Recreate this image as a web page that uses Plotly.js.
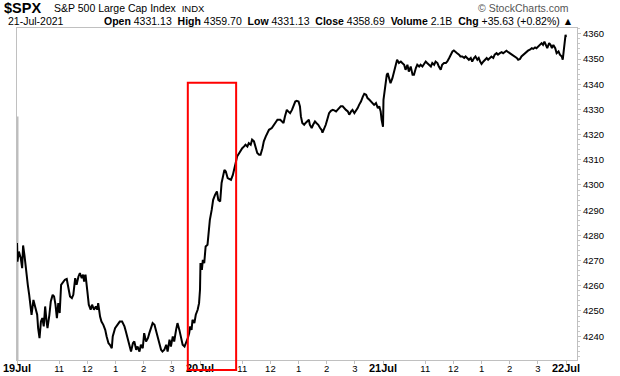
<!DOCTYPE html>
<html><head><meta charset="utf-8">
<script src="https://cdn.plot.ly/plotly-3.0.1.min.js"></script>
<style>html,body{margin:0;padding:0;background:#fff}#chart{width:620px;height:376px}</style>
</head><body><div id="chart"></div>
<script>
// ---- data (minutes since each session's 9:30 open, price) ----
const day19Min = [0,1,4,8,11,13,16,19,23,26,28,31,35,38,43,45,48,51,54,57,60,63,65,69,72,76,79,82,85,88,91,94,97,102,106,109,113,117,120,124,127,131,134,138,141,143,146,150,153,157,160,164,168,171,173,177,180,184,188,191,195,198,202,204,209,214,219,224,229,232,236,239,243,247,250,254,257,261,264,268,271,275,279,282,286,289,293,296,300,303,307,310,314,318,321,325,328,332,335,339,342,346,350,353,357,360,364,367,369,372,374,378,381,385,388,390];
const day19Px  = [4277,4269.6,4273.6,4271,4267,4276,4272,4265.7,4260.4,4256.4,4253.8,4248.5,4254.4,4251.8,4248.5,4243.2,4239.2,4245.8,4247.2,4243.9,4251.8,4245.8,4243.2,4248.5,4253.8,4256.4,4255.8,4252.5,4247.2,4253.1,4249.2,4260.4,4261.1,4262.4,4262.7,4259.1,4255.8,4255.1,4256.4,4263,4260.4,4263.7,4265,4263,4264.4,4261.7,4264.4,4257.7,4252.5,4250.5,4252.5,4250.5,4251.8,4250.5,4253.1,4247.8,4245.8,4244.5,4242.5,4239.9,4237.2,4236.6,4235.2,4239.9,4243.2,4244.5,4245.8,4245.8,4243.9,4241.9,4238.6,4235.9,4233.9,4237.2,4237.9,4234.6,4235.9,4233.9,4236.6,4235.2,4241.2,4237.9,4239.2,4241.2,4243.9,4245.2,4244.5,4242.5,4239.9,4237.2,4234.6,4233.9,4234.6,4236.6,4233.9,4238.6,4235.9,4239.9,4237.9,4242.5,4245.2,4242.5,4239.2,4236.6,4235.9,4237.2,4239.2,4241.2,4243.9,4242.5,4246.5,4245.2,4248.5,4250.5,4253.1,4258.5];
const day20Min = [1,4,6,9,12,16,19,21,25,28,32,36,39,43,46,50,52,55,59,62,66,70,73,76,79,83,87,90,94,97,101,104,108,111,115,119,122,126,129,133,136,140,143,147,153,160,165,171,174,178,181,185,188,192,196,199,203,206,210,213,215,218,222,225,229,232,234,238,241,245,248,252,256,259,261,265,268,272,275,279,283,286,290,293,297,300,304,307,311,315,318,322,325,329,332,336,339,343,347,350,354,357,361,364,368,371,375,379,382,385,387,390];
const day20Px  = [4269,4266.3,4270.3,4269,4275.6,4276.3,4282.2,4286.2,4290.2,4294.1,4296.1,4297.4,4294.1,4293.5,4300.8,4304,4306,4305.4,4302.7,4302.4,4302,4304,4306,4308.7,4311.3,4312.7,4314,4314.6,4315.3,4316,4315.3,4316.6,4316,4318,4317.3,4314,4312.7,4312,4312,4314.6,4317.3,4319.2,4320.6,4321.9,4322.6,4324.5,4325.9,4325.9,4325.2,4324.6,4327.2,4329.8,4329.2,4328.5,4329.8,4331.2,4333.1,4333.4,4333.1,4331.2,4327.2,4324.6,4323.9,4324.6,4325.2,4325.9,4323.9,4322.6,4323.9,4325.2,4324.6,4323.9,4322.6,4321.9,4320.8,4322.6,4323.9,4326.5,4328.5,4329.4,4329.8,4329.6,4329.2,4329.8,4330.5,4331.2,4331.2,4330.5,4329.8,4329.2,4327.9,4329.2,4329.8,4328.5,4329.2,4330.5,4331.8,4333.1,4335.1,4336.2,4335.8,4334.5,4333.8,4333.1,4332.5,4331.8,4332.5,4330.5,4331.2,4329.2,4325.9,4323.1];
const day21Min = [1,4,6,8,10,13,16,20,23,27,30,34,38,41,45,48,52,55,59,63,66,70,73,77,80,84,87,91,94,98,102,105,109,112,116,119,123,126,130,134,137,141,144,148,151,155,158,162,165,169,173,176,180,183,187,190,194,197,201,204,207,210,214,217,221,224,228,231,235,238,242,245,249,253,256,260,263,267,270,274,277,281,285,288,292,295,299,302,306,309,313,317,320,324,327,331,334,338,341,344,347,350,354,357,360,363,367,370,374,377,381,383,385,387,389,390];
const day21Px  = [4333.8,4338.5,4339.8,4343.7,4344.4,4341.7,4340.4,4342.4,4345,4347.7,4349.7,4348.4,4349,4348.4,4347.7,4345.7,4347.7,4345,4347,4343.7,4343.7,4346.4,4347.7,4347,4347.7,4347,4347.7,4349,4348.4,4347.7,4347,4348.4,4347.7,4349,4348.4,4347,4345.7,4347.7,4348.4,4348.4,4349,4350.4,4351.7,4353,4353.4,4352.6,4352.3,4351.7,4351,4351,4350.4,4351,4350.4,4349.7,4350.4,4349,4350.4,4351,4349.7,4350.4,4349,4348,4349,4349.7,4350.4,4349.7,4350.4,4351,4350.4,4351.7,4352.3,4351.7,4352.3,4352.7,4352.3,4353,4353.3,4352.7,4352.3,4351.9,4351.7,4351,4350.4,4349.7,4350,4351,4351.7,4352.3,4353,4353.3,4353.7,4354.3,4354,4354.6,4354.3,4355,4355.6,4356.3,4355.6,4356.9,4355.6,4354.3,4356.3,4355.6,4354.3,4355.6,4354.3,4352.3,4353,4351.7,4351,4349.7,4353,4356.9,4359.6,4358.7];
const sessionMinutes = 390;
const prevClose = 4327.16;

const tickMinutes = [0,90,150,210,270,330,390,480,540,600,660,720,780,870,930,990,1050,1110,1170];
const tickLabels  = ['19Jul','11','12','1','2','3','20Jul','11','12','1','2','3','21Jul','11','12','1','2','3','22Jul'];
const yTicks = [4240,4250,4260,4270,4280,4290,4300,4310,4320,4330,4340,4350,4360];

const symbol = '$SPX';
const symbolName = 'S&P 500 Large Cap Index';
const exchange = 'INDX';
const quoteDate = '21-Jul-2021';
const quoteLabels = ['Open','High','Low','Close','Volume','Chg'];
const quoteValues = ['4331.13','4359.70','4331.13','4358.69','2.1B','+35.63 (+0.82%)'];

// ---- build series ----
const xs = [], ys = [];
[[day19Min, day19Px],[day20Min, day20Px],[day21Min, day21Px]].forEach(([m,p],d)=>{
  m.forEach((v,i)=>{ xs.push(d*sessionMinutes + v); ys.push(p[i]); });
});

const FONT = 'Liberation Sans, Arial, sans-serif';
const ticktext = tickLabels.map(t => /Jul/.test(t) ? '<span style="font-size:11px"><b>'+t+'</b></span>' : t);

const quoteStr = quoteLabels.map((l,i)=>'<b>'+l+'</b> '+quoteValues[i]).join('&nbsp;&nbsp;') + ' \u25B2';

const yMin = 4230.55, yMax = 4362.3;

const layout = {
  width: 620, height: 376,
  margin: {l:17, r:43, t:28, b:16},
  paper_bgcolor: '#fff', plot_bgcolor: '#fff',
  showlegend: false,
  font: {family: FONT, color: '#000', size: 9},
  xaxis: {
    range: [0, 1193.4], tickvals: tickMinutes, ticktext: ticktext,
    showgrid: false, zeroline: false,
    showline: true, linecolor: '#c0c0c0', linewidth: 1, mirror: true,
    ticks: '',
    minor: {tickvals: tickMinutes, ticks: 'outside', ticklen: 3, tickcolor: '#c0c0c0', showgrid: false},
    tickfont: {size: 9.5, color: '#000', family: FONT},
    fixedrange: true
  },
  yaxis: {
    side: 'right', range: [yMin, yMax], tickvals: yTicks,
    showgrid: false, zeroline: false,
    showline: true, linecolor: '#c0c0c0', linewidth: 1, mirror: true,
    ticks: 'outside', ticklen: 3, tickcolor: '#c0c0c0',
    minor: {dtick: 2, ticks: 'outside', ticklen: 2, tickcolor: '#c8c8c8', showgrid: false},
    tickfont: {size: 9.5, color: '#000', family: FONT},
    fixedrange: true
  },
  shapes: [
    {type:'line', xref:'x', yref:'y', x0:0, x1:0, y0:prevClose, y1:yMin,
     line:{color:'#bdbdbd', width:3}, layer:'below'},
    {type:'rect', xref:'x', yref:'paper', x0:364, x1:467, y0:-0.03, y1:0.835,
     line:{color:'#ff0000', width:2}, fillcolor:'rgba(0,0,0,0)', layer:'above'}
  ],
  annotations: [
    {xref:'paper', yref:'paper', x:-0.025, y:1.0, yshift:20, xanchor:'left', yanchor:'middle', showarrow:false, borderpad:0,
     text:'<b>'+symbol+'</b>', font:{size:14.5, family:FONT, color:'#000'}},
    {xref:'paper', yref:'paper', x:0.064, y:1.0, yshift:20, xanchor:'left', yanchor:'middle', showarrow:false, borderpad:0,
     text: symbolName + '&nbsp;&nbsp;<span style="font-size:9.5px">' + exchange + '</span>', font:{size:10.5, family:FONT, color:'#000'}},
    {xref:'paper', yref:'paper', x:1.0, xshift:-7, y:1.0, yshift:20, xanchor:'right', yanchor:'middle', showarrow:false, borderpad:0,
     text:'\u00A9 StockCharts.com', font:{size:10.5, family:FONT, color:'#555'}},
    {xref:'paper', yref:'paper', x:-0.018, y:1.0, yshift:7.5, xanchor:'left', yanchor:'middle', showarrow:false, borderpad:0,
     text: quoteDate, font:{size:10.5, family:FONT, color:'#000'}},
    {xref:'paper', yref:'paper', x:1.0, xshift:-3, y:1.0, yshift:7.5, xanchor:'right', yanchor:'middle', showarrow:false, borderpad:0,
     text: quoteStr, font:{size:10.5, family:FONT, color:'#000'}}
  ]
};

Plotly.newPlot('chart', [{
  x: xs, y: ys, type: 'scatter', mode: 'lines',
  line: {color: '#000', width: 2}, hoverinfo: 'skip'
}], layout, {staticPlot: true, displayModeBar: false});
</script></body></html>
